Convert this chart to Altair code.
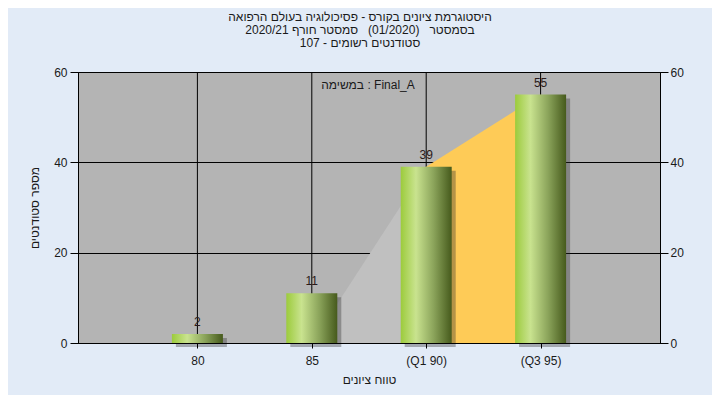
import altair as alt
import pandas as pd

# ---- data ----
grades = [80, 85, 90, 95]
counts = [2, 11, 39, 55]
tick_labels = ["80", "85", "(Q1 90)", "(Q3 95)"]
area_grades = [80, 85, 90, 95]
area_values = [0, 0, 39, 55]
q1_grade, q3_grade = 90, 95
series_name = "Final_A"

title_lines = [
    "היסטוגרמת ציונים בקורס - פסיכולוגיה בעולם הרפואה",
    "בסמסטר\u00a0\u00a0 (01/2020)\u00a0\u00a0 סמסטר חורף 2020/21",
    "סטודנטים רשומים - 107",
]
x_title = "טווח ציונים"
y_title = "מספר סטודנטים"
legend_label = "במשימה : " + series_name

FONT = "Liberation Sans, DejaVu Sans, Arial, sans-serif"
TXT = "#1a1a1a"

bars_df = pd.DataFrame({"grade": grades, "count": counts})
area_df = pd.DataFrame({"grade": area_grades, "value": area_values})
gray_df = area_df[area_df.grade <= q1_grade]
orange_df = area_df[(area_df.grade >= q1_grade) & (area_df.grade <= q3_grade)]

# label expression built from the tick label list
expr = "datum.label"
for g, l in zip(grades, tick_labels):
    expr = f"datum.value == {g} ? '{l}' : ({expr})"

xscale = alt.Scale(domain=[75, 100], nice=False, zero=False)
yscale = alt.Scale(domain=[0, 60], nice=False)

x_axis = alt.Axis(values=grades, labelExpr=expr, grid=False, tickSize=5,
                  tickColor="black", domainColor="black", labelPadding=7,
                  title=x_title, titlePadding=8, zindex=1)
x_enc = alt.X("grade:Q", scale=xscale, axis=x_axis)

left_axis = alt.Axis(orient="left", values=[0, 20, 40, 60], grid=True,
                     gridColor="black", gridOpacity=1, tickSize=8,
                     tickColor="black", domainColor="black", labelPadding=3,
                     title=y_title, titlePadding=12)
right_axis = alt.Axis(orient="right", values=[0, 20, 40, 60], grid=False,
                      tickSize=8, tickColor="black", domainColor="black",
                      labelPadding=2, title=None)

vgrid = alt.Chart(bars_df).mark_rule(color="black", strokeWidth=1).encode(x=x_enc)

gray_area = alt.Chart(gray_df).mark_area(color="#c0c0c0", opacity=1).encode(
    x=x_enc, y=alt.Y("value:Q", scale=yscale, axis=None))
orange_area = alt.Chart(orange_df).mark_area(color="#fecb57", opacity=1).encode(
    x=x_enc, y=alt.Y("value:Q", scale=yscale, axis=None))

shadow = alt.Chart(bars_df).mark_bar(size=51, color="#2a2a2a", opacity=0.35,
                                     xOffset=4, yOffset=4).encode(
    x=x_enc, y=alt.Y("count:Q", scale=yscale, axis=None))

grad = alt.Gradient(
    gradient="linear", x1=0, x2=1, y1=0, y2=0,
    stops=[alt.GradientStop(color="#9ccb3c", offset=0),
           alt.GradientStop(color="#c9e38f", offset=0.3),
           alt.GradientStop(color="#8aa35a", offset=0.65),
           alt.GradientStop(color="#465a1c", offset=1)])
bars = alt.Chart(bars_df).mark_bar(size=51, color=grad).encode(
    x=x_enc, y=alt.Y("count:Q", scale=yscale, axis=left_axis))

labels = alt.Chart(bars_df).mark_text(baseline="bottom", dy=-5, fontSize=12,
                                      font=FONT, color="#2a1a1a").encode(
    x=x_enc, y=alt.Y("count:Q", scale=yscale, axis=right_axis),
    text="count:Q")

legend = alt.Chart(bars_df.head(1)).mark_text(fontSize=12, font=FONT, color=TXT,
                                              align="center", baseline="middle").encode(
    x=alt.value(290), y=alt.value(13), text=alt.value(legend_label))

chart = alt.layer(vgrid, gray_area, orange_area, shadow, bars, labels, legend).resolve_axis(
    y="independent"
).properties(
    width=582, height=271,
    autosize=alt.AutoSizeParams(type="none"),
    padding={"left": 70, "top": 64, "right": 52, "bottom": 52},
    title=alt.Title(text=title_lines, fontSize=12, font=FONT, color=TXT,
                    fontWeight="normal", anchor="middle", dx=-9, offset=16,
                    lineHeight=13),
).configure(background="#e2ebf7").configure_view(
    stroke="black", strokeWidth=1, fill="#b4b4b4"
).configure_axis(
    labelFont=FONT, titleFont=FONT, labelFontSize=12, titleFontSize=12,
    labelColor=TXT, titleColor=TXT, titleFontWeight="normal"
)

chart.save("out.html", embed_options={"renderer": "svg", "actions": False})
